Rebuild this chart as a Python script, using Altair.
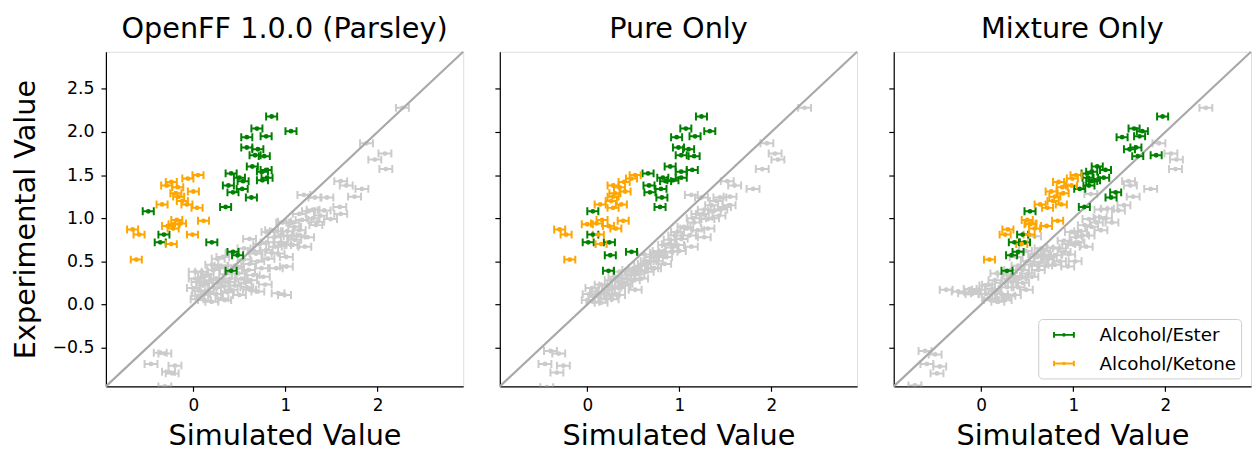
import altair as alt
import pandas as pd

# ---------------- data ----------------
LIM = [-0.95, 2.93]
X_TICKS = [0, 1, 2]
Y_TICKS = [-0.5, 0.0, 0.5, 1.0, 1.5, 2.0, 2.5]
GROUPS = ["Alcohol/Ester", "Alcohol/Ketone"]
TITLES = ["OpenFF 1.0.0 (Parsley)", "Pure Only", "Mixture Only"]
GRAY_ERR = 0.07
COLOR_ERR = 0.06

# experimental values (shared between panels)
ester_exp = [2.18, 2.04, 2.01, 1.95, 1.94, 1.82, 1.80, 1.73, 1.72, 1.60, 1.56, 1.54, 1.52,
             1.47, 1.47, 1.44, 1.43, 1.38, 1.34, 1.30, 1.24, 1.13,
             1.08, 0.81, 0.72, 0.72, 0.61, 0.57, 0.39]
ester_sim_p1 = [0.85, 0.69, 1.06, 0.79, 0.58, 0.58, 0.70, 0.67, 0.77, 0.64, 0.79, 0.75, 0.41,
                0.50, 0.80, 0.75, 0.54, 0.38, 0.53, 0.43, 0.63, 0.35,
                -0.49, -0.32, -0.36, 0.20, 0.43, 0.48, 0.41]
ester_sim_p2 = [1.24, 1.07, 1.33, 1.17, 0.97, 0.99, 1.10, 1.02, 1.16, 0.90, 1.14, 1.02, 0.66,
                0.82, 1.02, 0.93, 0.85, 0.67, 0.80, 0.68, 0.81, 0.79,
                0.06, 0.06, 0.01, 0.24, 0.48, 0.25, 0.23]
ester_sim_p3 = [1.97, 1.66, 1.75, 1.72, 1.53, 1.68, 1.61, 1.90, 1.70, 1.26, 1.35, 1.20, 1.15,
                1.16, 1.33, 1.23, 1.20, 1.17, 1.07, 1.46, 1.41, 1.12,
                0.53, 0.45, 0.36, 0.47, 0.40, 0.33, 0.28]

ketone_exp = [1.50, 1.46, 1.42, 1.38, 1.36, 1.31, 1.29, 1.25, 1.20, 1.16, 1.16, 1.12,
              0.98, 0.97, 0.94, 0.93, 0.91, 0.88, 0.87, 0.81, 0.81, 0.70, 0.52]
ketone_sim_p1 = [0.05, -0.06, -0.24, -0.29, -0.17, 0.00, -0.19, -0.16, -0.12, -0.07, -0.34, 0.04,
                 -0.18, 0.11, -0.14, -0.21, -0.28, -0.22, -0.66, -0.59, -0.01, -0.24, -0.62]
ketone_sim_p2 = [0.52, 0.48, 0.40, 0.28, 0.35, 0.41, 0.30, 0.28, 0.26, 0.37, 0.14, 0.28,
                 0.16, 0.39, 0.10, 0.00, 0.23, 0.31, -0.30, -0.23, 0.12, 0.15, -0.19]
ketone_sim_p3 = [1.03, 0.99, 0.84, 0.98, 0.88, 0.76, 0.89, 0.80, 0.78, 0.87, 0.64, 0.72,
                 0.50, 0.83, 0.54, 0.53, 0.71, 0.58, 0.29, 0.26, 0.52, 0.44, 0.09]

# other systems (gray)
gray_sim_p1 = [2.27, 1.88, 2.08, 1.97, 2.09, 1.60, 1.66, 1.83, 1.75,
               1.20, 1.32, 1.45, 1.30, 1.42, 1.59, 1.60, 1.49, 1.30, 1.33, 1.38, 1.35,
               0.99, 1.15, 0.61, 0.81, 0.90, 1.05, 1.24, 1.21, 1.08, 0.99, 0.89, 0.79, 0.68, 0.92,
               1.01, 0.81, 0.61, 0.74, 0.90, 1.01, 0.32, 0.20, 0.09, 0.27, 0.49, 0.65, 0.05, 0.18,
               0.38, 0.56, 0.78, 0.00, 0.23, 0.41, 0.61, 0.70, 0.92, 0.09, 0.31, 0.50, 0.20, 0.34,
               0.02, 0.27, 0.97, 0.85, 1.15, 1.10, 1.06, 1.14,
               0.05, 0.15, 0.12, 0.25, 0.35, 0.45, 0.55, 0.70, 0.85, 0.95, 1.10,
               0.02, 0.10, 0.15, 0.22, 0.30, 0.28, 0.40, 0.48, 0.52, 0.60, 0.66, 0.72, 0.80,
               0.88, 0.95, 1.02, 1.08, 1.18, 1.25, 0.42, 0.55, 0.12, 0.25, 0.45, 0.62, 0.99,
               0.06, 0.18, 0.33, 0.04, 0.14, 0.37, 0.58, 0.76,
               -0.36, -0.31, -0.46, -0.20, -0.27, -0.23, -0.31]
gray_exp_p1 = [2.28, 1.87, 1.75, 1.68, 1.57, 1.43, 1.38, 1.34, 1.25,
               1.27, 1.24, 1.24, 1.10, 1.09, 1.13, 1.05, 0.99, 1.00, 0.92, 1.03, 0.96,
               0.96, 0.86, 0.76, 0.84, 0.85, 0.79, 0.78, 0.67, 0.69, 0.69, 0.67, 0.63, 0.59, 0.59,
               0.55, 0.53, 0.47, 0.42, 0.42, 0.44, 0.55, 0.46, 0.38, 0.42, 0.36, 0.34, 0.26, 0.28,
               0.26, 0.25, 0.23, 0.19, 0.19, 0.17, 0.17, 0.15, 0.13, 0.11, 0.07, 0.11, 0.03, 0.05,
               0.38, 0.53, 0.95, 0.86, 1.05, 0.90, 0.69, 0.80,
               0.10, 0.15, 0.32, 0.30, 0.35, 0.45, 0.52, 0.50, 0.60, 0.72, 0.75,
               0.30, 0.22, 0.35, 0.40, 0.45, 0.25, 0.30, 0.42, 0.30, 0.40, 0.62, 0.70, 0.72,
               0.78, 0.80, 0.85, 0.95, 0.98, 1.08, 0.60, 0.65, 0.05, 0.12, 0.22, 0.28, 0.11,
               0.16, 0.13, 0.21, 0.06, 0.25, 0.14, 0.20, 0.32,
               -0.56, -0.57, -0.69, -0.71, -0.78, -0.80, -0.95]

gray_sim_p2 = [2.36, 1.95, 2.04, 2.07, 1.90, 1.52, 1.60, 1.80,
               1.13, 1.24, 1.44, 1.55, 1.27, 1.38, 1.49, 1.54, 1.43, 1.31, 1.31, 1.16, 1.27, 1.11,
               0.98, 1.02, 1.13, 0.98, 0.84, 0.91, 0.80, 0.70, 0.84, 0.73, 0.62, 0.52, 0.44, 0.59,
               0.37, 0.26, 0.15, 0.05, 0.23, 0.34, 0.08, 0.19, 0.01, 0.34, 0.52,
               1.20, 1.36, 1.05, 1.20, 0.90, 0.65, 0.75, 0.55, 0.45, 0.30, 0.12, 0.25, 0.40, 0.62,
               0.10, 0.20, 0.30, 0.40, 0.48, 0.58, 0.68, 0.78, 0.88, 0.95, 1.08, 1.15, 1.25,
               1.35, 0.35, 0.50, 0.65, 0.75, 0.85, 1.00, 0.02, 0.15, 0.28, 1.45, 1.40,
               0.06, 0.17, 0.27, 0.42, 0.56, 0.70, 0.92,
               -0.40, -0.31, -0.46, -0.26, -0.33, -0.44]
gray_exp_p2 = [2.28, 1.87, 1.75, 1.68, 1.57, 1.43, 1.38, 1.34,
               1.27, 1.24, 1.24, 1.25, 1.10, 1.09, 1.13, 1.15, 1.03, 0.99, 0.88, 0.95, 0.78, 0.80,
               0.84, 0.76, 0.67, 0.69, 0.69, 0.61, 0.57, 0.55, 0.47, 0.42, 0.47, 0.42, 0.34, 0.30,
               0.26, 0.28, 0.23, 0.19, 0.17, 0.19, 0.09, 0.07, 0.05, 0.11, 0.17,
               1.05, 1.00, 0.90, 0.86, 0.75, 0.50, 0.60, 0.35, 0.40, 0.32, 0.12, 0.10, 0.22, 0.58,
               0.15, 0.22, 0.20, 0.30, 0.38, 0.45, 0.50, 0.62, 0.70, 0.80, 0.88, 1.00, 1.05,
               1.15, 0.38, 0.28, 0.38, 0.50, 0.55, 0.62, 0.12, 0.02, 0.12, 1.10, 1.20,
               0.03, 0.14, 0.06, 0.24, 0.40, 0.42, 0.66,
               -0.54, -0.57, -0.69, -0.71, -0.79, -0.96]

gray_sim_p3 = [2.44, 1.93, 2.06, 2.12, 2.11, 1.60, 1.62, 1.84, 1.65,
               1.30, 1.37, 1.49, 1.55, 1.42, 1.29, 1.17, 1.12, 1.30, 1.16, 1.03, 0.98, 1.14, 1.01,
               0.90, 0.58, 0.90, 0.80, 0.69, 0.94, 0.80, 0.65, 0.54, 0.62, 0.51, 0.42, 0.17, 0.33,
               0.22, 0.08, -0.03, -0.38, -0.18, -0.07, 0.15, 0.08, 0.26, 0.36, 0.49, 0.18, 0.65,
               1.19, 1.25, 1.08, 0.95, 0.85, 0.72, 0.60, 0.45, 0.35, 0.28, 0.40, 0.05, -0.10, 0.70,
               0.05, 0.15, 0.25, 0.32, 0.40, 0.50, 0.58, 0.68, 0.75, 0.85, 0.95, 1.05, 1.10,
               1.20, 1.35, 0.30, 0.45, 0.55, 0.10, 0.22, -0.25, -0.12, 0.38, 0.48, 1.02,
               0.12, 0.24, 0.44, 0.30, 0.62, 0.78,
               -0.61, -0.50, -0.59, -0.45, -0.48, -0.72]
gray_exp_p3 = [2.28, 1.87, 1.75, 1.68, 1.57, 1.43, 1.38, 1.34, 1.25,
               1.10, 1.11, 1.09, 1.15, 0.95, 1.01, 0.99, 0.92, 0.86, 0.80, 0.78, 0.84, 0.67, 0.69,
               0.74, 0.79, 0.61, 0.57, 0.57, 0.44, 0.46, 0.49, 0.46, 0.40, 0.36, 0.30, 0.36, 0.26,
               0.25, 0.23, 0.17, 0.17, 0.13, 0.15, 0.15, 0.07, 0.05, 0.11, 0.17, 0.03, 0.65,
               1.28, 0.95, 0.85, 0.70, 0.65, 0.52, 0.55, 0.40, 0.33, 0.20, 0.20, 0.12, 0.12, 0.45,
               0.22, 0.28, 0.35, 0.40, 0.45, 0.50, 0.58, 0.62, 0.55, 0.50, 0.58, 0.72, 0.80,
               0.90, 1.00, 0.10, 0.25, 0.32, 0.05, 0.12, 0.15, 0.18, 0.55, 0.62, 0.50,
               0.18, 0.08, 0.32, 0.30, 0.45, 0.66,
               -0.54, -0.58, -0.69, -0.72, -0.80, -0.94]

PANELS = [
    (gray_sim_p1, gray_exp_p1, ester_sim_p1, ketone_sim_p1),
    (gray_sim_p2, gray_exp_p2, ester_sim_p2, ketone_sim_p2),
    (gray_sim_p3, gray_exp_p3, ester_sim_p3, ketone_sim_p3),
]

# ---------------- style ----------------
FONT = "DejaVu Sans"
GRAY = "#cbcbcb"
DIAG = "#a9a9a9"
COLORS = ["#008000", "#ffa500"]
W, H = 361, 338
LW = 2.0

xscale = alt.Scale(domain=LIM, nice=False, zero=False)
yscale = alt.Scale(domain=LIM, nice=False, zero=False)


def x_axis():
    return alt.Axis(values=X_TICKS, format="d", title="Simulated Value", grid=False,
                    domainColor="black", tickColor="black", domainWidth=1.2, tickWidth=1.2,
                    tickSize=5, labelFontSize=17, labelPadding=6, labelColor="black",
                    titleFontSize=29, titleFontWeight="normal", titleColor="black",
                    titlePadding=9, labelFont=FONT, titleFont=FONT)


def y_axis(show):
    if show:
        return alt.Axis(values=Y_TICKS, format=".1f", title="Experimental Value", grid=False,
                        domainColor="black", tickColor="black", domainWidth=1.2, tickWidth=1.2,
                        tickSize=5, labelFontSize=17.5, labelPadding=7, labelColor="black",
                        titleFontSize=29, titleFontWeight="normal", titleColor="black",
                        titlePadding=12, labelFont=FONT, titleFont=FONT)
    return alt.Axis(values=Y_TICKS, labels=False, title=None, grid=False,
                    domainColor="black", tickColor="black", domainWidth=1.2, tickWidth=1.2,
                    tickSize=5)


# horizontal error bar glyph with caps and a (stroked) centre dot
LEGEND_PATH = ("M-1,0H1M-1,-0.28V0.28M1,-0.28V0.28"
               "M-0.08,0a0.08,0.08 0 1,0 0.16,0a0.08,0.08 0 1,0 -0.16,0")


def panel(i):
    gsim, gexp, esim, ksim = PANELS[i]
    show_y = i == 0
    show_leg = i == 2
    X = lambda f: alt.X(f"{f}:Q", scale=xscale, axis=x_axis())
    Y = lambda f: alt.Y(f"{f}:Q", scale=yscale, axis=y_axis(show_y))

    gdf = pd.DataFrame({"sim": gsim, "exp": gexp})
    gdf["lo"] = gdf["sim"] - GRAY_ERR
    gdf["hi"] = gdf["sim"] + GRAY_ERR

    cdf = pd.DataFrame({
        "sim": list(esim) + list(ksim),
        "exp": ester_exp + ketone_exp,
        "group": [GROUPS[0]] * len(esim) + [GROUPS[1]] * len(ksim),
    })
    cdf["lo"] = cdf["sim"] - COLOR_ERR
    cdf["hi"] = cdf["sim"] + COLOR_ERR

    ddf = pd.DataFrame({"a": [LIM[0]], "b": [LIM[1]]})

    if show_leg:
        legend = alt.Legend(
            title=None, orient="none", legendX=146, legendY=270,
            symbolType=LEGEND_PATH, symbolSize=400, symbolStrokeWidth=2,
            symbolOffset=10, labelOffset=25, labelFontSize=18.5, labelFont=FONT,
            labelColor="black", padding=5, rowPadding=8,
            strokeColor="#cccccc", fillColor="white", cornerRadius=4,
        )
    else:
        legend = None
    cscale = alt.Scale(domain=GROUPS, range=COLORS)

    diag = alt.Chart(ddf).mark_rule(color=DIAG, strokeWidth=2.2).encode(
        x=X("a"), y=Y("a"), x2="b", y2="b")

    g_rule = alt.Chart(gdf).mark_rule(color=GRAY, strokeWidth=LW, clip=True).encode(
        x=X("lo"), x2="hi", y=Y("exp"))
    g_caps = alt.Chart(gdf).transform_fold(["lo", "hi"], as_=["k", "v"]).mark_tick(
        color=GRAY, orient="vertical", size=8, thickness=LW, clip=True, opacity=1).encode(
        x=X("v"), y=Y("exp"))
    g_dot = alt.Chart(gdf).mark_circle(color=GRAY, size=24, opacity=1, clip=True).encode(
        x=X("sim"), y=Y("exp"))

    c_rule = alt.Chart(cdf).mark_rule(strokeWidth=LW, clip=True).encode(
        x=X("lo"), x2="hi", y=Y("exp"),
        color=alt.Color("group:N", scale=cscale, legend=legend))
    c_caps = alt.Chart(cdf).transform_fold(["lo", "hi"], as_=["k", "v"]).mark_tick(
        orient="vertical", size=8, thickness=LW, clip=True, opacity=1).encode(
        x=X("v"), y=Y("exp"),
        fill=alt.Fill("group:N", scale=cscale, legend=None))
    c_dot = alt.Chart(cdf).mark_circle(size=24, opacity=1, clip=True).encode(
        x=X("sim"), y=Y("exp"),
        fill=alt.Fill("group:N", scale=cscale, legend=None))

    return alt.layer(g_rule, g_caps, g_dot, diag, c_rule, c_caps, c_dot).properties(
        width=W, height=H,
        title=alt.TitleParams(TITLES[i], fontSize=29, fontWeight="normal", font=FONT,
                              color="black", offset=7, anchor="middle"),
    )


chart = alt.hconcat(panel(0), panel(1), panel(2), spacing=28).resolve_scale(
    color="independent", fill="independent"
).properties(
    padding={"left": 11, "top": 12, "right": 0, "bottom": 0}
).configure_view(stroke=None).configure(font=FONT)

chart.save("out.html", embed_options={"renderer": "svg", "actions": False})
